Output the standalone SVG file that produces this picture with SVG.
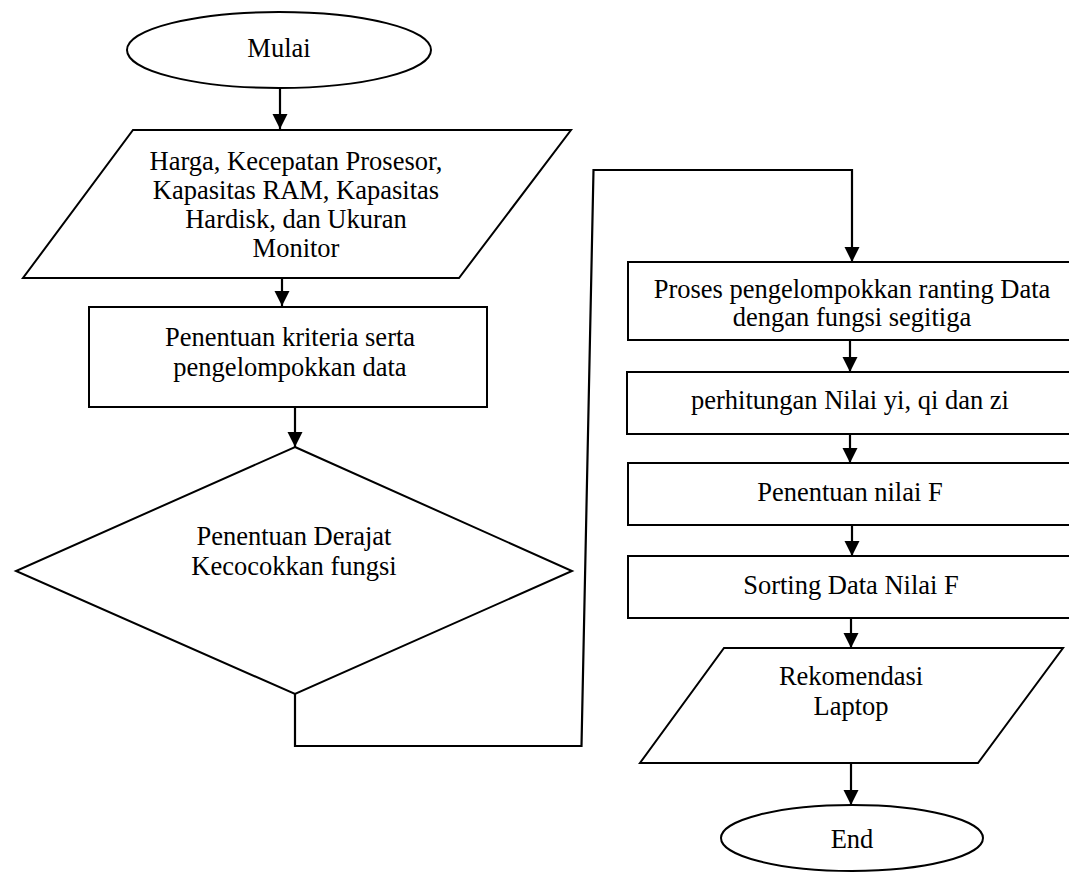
<svg xmlns="http://www.w3.org/2000/svg" width="1069" height="876" viewBox="0 0 1069 876">
  <style>
    .shape { fill: #ffffff; stroke: #000000; stroke-width: 2; }
    .label { font-family: "Liberation Serif", "Times New Roman", serif; font-size: 26.5px; fill: #000000; text-anchor: middle; }
    .flow { fill: none; stroke: #000000; stroke-width: 2.2; }
  </style>
  <defs>
    <marker id="arrow" markerUnits="userSpaceOnUse" markerWidth="16" markerHeight="16" viewBox="0 0 16 16" refX="15" refY="8" orient="auto">
      <path d="M0,0.5 L15,8 L0,15.5 Z" fill="#000000"/>
    </marker>
  </defs>
  <rect width="1069" height="876" fill="#ffffff"/>

  <!-- connectors -->
  <g id="connectors">
    <line class="flow" x1="280" y1="89" x2="280" y2="129" marker-end="url(#arrow)"/>
    <line class="flow" x1="282" y1="278" x2="282" y2="306" marker-end="url(#arrow)"/>
    <line class="flow" x1="295" y1="407" x2="295" y2="447" marker-end="url(#arrow)"/>
    <polyline class="flow" points="295,694 295,746 581.5,746 593.5,170 852,170 852,262" marker-end="url(#arrow)"/>
    <line class="flow" x1="850" y1="340" x2="850" y2="372" marker-end="url(#arrow)"/>
    <line class="flow" x1="850" y1="434" x2="850" y2="463" marker-end="url(#arrow)"/>
    <line class="flow" x1="852" y1="525" x2="852" y2="556" marker-end="url(#arrow)"/>
    <line class="flow" x1="851" y1="618" x2="851" y2="648" marker-end="url(#arrow)"/>
    <line class="flow" x1="851" y1="763" x2="851" y2="805" marker-end="url(#arrow)"/>
  </g>

  <!-- start terminator -->
  <g id="start">
    <ellipse class="shape" cx="279" cy="50" rx="152" ry="38"/>
    <text class="label" x="279" y="57">Mulai</text>
  </g>

  <!-- input data -->
  <g id="input">
    <polygon class="shape" points="133,130 571,130 459,278 23,278"/>
    <text class="label" x="296" y="170">Harga, Kecepatan Prosesor,</text>
    <text class="label" x="296" y="199">Kapasitas RAM, Kapasitas</text>
    <text class="label" x="296" y="228">Hardisk, dan Ukuran</text>
    <text class="label" x="296" y="257">Monitor</text>
  </g>

  <!-- criteria -->
  <g id="criteria">
    <rect class="shape" x="89" y="307" width="398" height="100"/>
    <text class="label" x="290" y="346">Penentuan kriteria serta</text>
    <text class="label" x="290" y="376">pengelompokkan data</text>
  </g>

  <!-- membership degree -->
  <g id="degree">
    <polygon class="shape" points="295,447 572,571 295,694 16,571"/>
    <text class="label" x="294" y="545">Penentuan Derajat</text>
    <text class="label" x="294" y="575">Kecocokkan fungsi</text>
  </g>

  <!-- triangular grouping -->
  <g id="grouping">
    <rect class="shape" x="628" y="262" width="450" height="78"/>
    <text class="label" x="852" y="298">Proses pengelompokkan ranting Data</text>
    <text class="label" x="852" y="326">dengan fungsi segitiga</text>
  </g>

  <!-- yi qi zi -->
  <g id="compute">
    <rect class="shape" x="627" y="372" width="450" height="62"/>
    <text class="label" x="850" y="409">perhitungan Nilai yi, qi dan zi</text>
  </g>

  <!-- F value -->
  <g id="fvalue">
    <rect class="shape" x="628" y="463" width="450" height="62"/>
    <text class="label" x="850" y="501">Penentuan nilai F</text>
  </g>

  <!-- sorting -->
  <g id="sorting">
    <rect class="shape" x="628" y="556" width="450" height="62"/>
    <text class="label" x="851" y="594">Sorting Data Nilai F</text>
  </g>

  <!-- output -->
  <g id="output">
    <polygon class="shape" points="724,648 1063,648 978,763 640,763"/>
    <text class="label" x="851" y="685">Rekomendasi</text>
    <text class="label" x="851" y="715">Laptop</text>
  </g>

  <!-- end terminator -->
  <g id="end">
    <ellipse class="shape" cx="852" cy="838" rx="131" ry="33"/>
    <text class="label" x="852" y="848">End</text>
  </g>
</svg>
